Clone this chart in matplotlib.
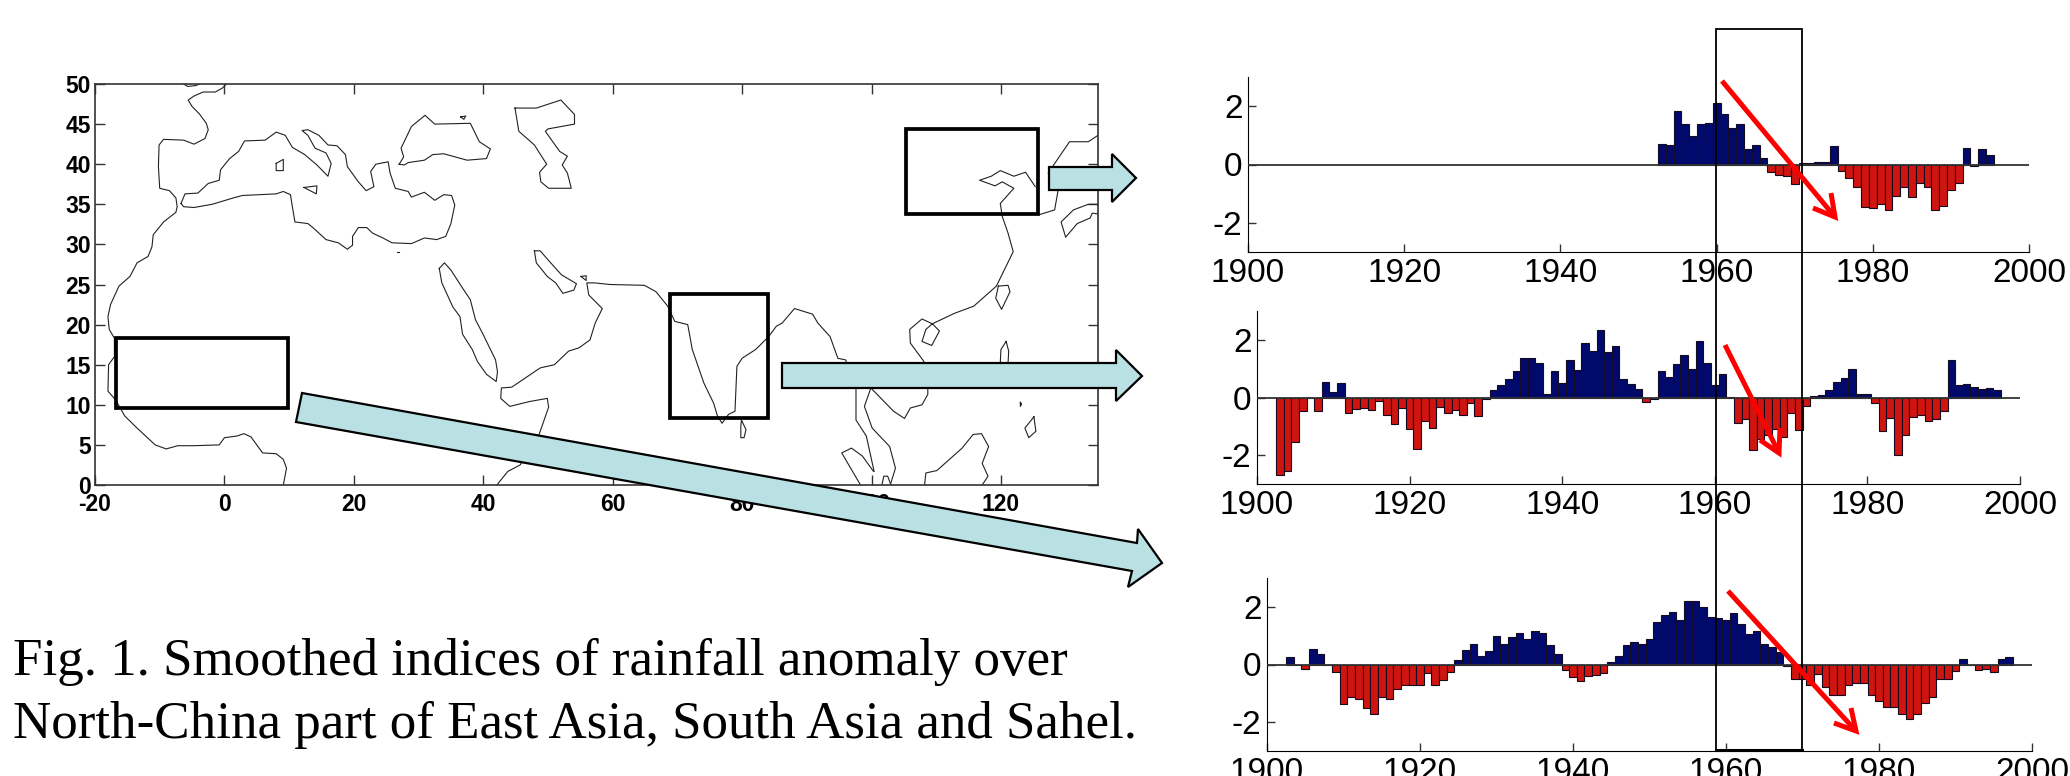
import matplotlib
matplotlib.use("Agg")
import matplotlib.pyplot as plt
from matplotlib.patches import Polygon, Rectangle
import numpy as np

plt.rcParams["axes.unicode_minus"] = False

W, H = 2070, 776

# ---- map data (lon, lat)
west_africa = [(0.3,50),(-0.3,49.5),(-1.4,49),(-3.3,49),(-4.7,48.5),(-5.6,48),(-5,47.2),(-3.9,46.3),(-2.8,45.1),
    (-2.5,44.3),(-3,43.2),(-4.7,42.5),(-6.3,43),(-9.4,43.1),(-10.1,42.4),(-10.2,39.7),(-10,37),(-8.5,36.7),
    (-7.5,35.8),(-7.3,34.7),(-7.5,34),(-9.4,32.8),(-11,31.2),(-11.2,29.7),(-11.8,28.5),(-13.5,27.7),(-14.6,26),
    (-16.3,24.8),(-17.6,22.5),(-18,21),(-17.8,19.4),(-17,18.3),(-17,16),(-17.9,15),(-18,11.7),(-16.8,10.6),
    (-15.4,8.6),(-13.5,7.1),(-10.7,5),(-9,4.5),(-7.2,4.9),(-4.7,4.9),(-0.8,5),(0,5.9),(1.9,6.1),(3,6.4),(4.1,6),
    (5.9,4),(8,3.9),(9.1,3.2),(9.6,2.1),(9.1,0)]
britain = [(-6.3,50),(-5.7,49.7),(-4.4,49.8),(-3.9,50)]
mediterranean = [(-6.7,35.1),(-6.1,36.3),(-4.1,36.4),(-2.5,37.6),(-0.8,38),(-0.6,39.3),(0.8,40.7),(2.2,41.6),(3.1,42.9),
    (6.3,43),(8,44),(9.4,43.6),(10.5,42.1),(12.4,41.2),(14.3,39.9),(16,38.5),(16.5,40.1),(15.7,41.4),(14,42),
    (12.9,43.6),(12,44.2),(12.9,44.3),(14.6,43.6),(16,42.4),(17.4,42.3),(18.7,41.2),(19,39.7),(20.7,37.8),
    (21.9,36.7),(23.1,37.2),(22.6,39.1),(23.4,40),(25.3,40.3),(25.6,38.9),(26.4,37),(28.4,36.6),(28.9,35.9),
    (30.9,36.5),(32.5,35.5),(33.9,36.2),(35.1,36.1),(35.6,34.9),(35,32.6),(34.2,31),(32.8,30.6),(30.9,30.8),
    (28.9,30.1),(25.9,30.2),(24.5,30.8),(22.9,31.4),(22,32.1),(20.7,32.1),(19.8,31),(19.8,29.9),(19,29.4),
    (17.6,30.2),(15.7,30.6),(13.8,32),(12.9,32.6),(10.9,32.8),(10.5,34.7),(10.2,36.2),(9.1,36.6),(8,36.3),
    (2.8,36.1),(1.4,35.8),(-1.9,35),(-4.7,34.6),(-6.3,34.7),(-6.7,35.1)]
sardinia = [(8,40.1),(9.1,40.6),(9.1,39.2),(8,39.2),(8,40.1)]
sicily = [(12.3,37.1),(14.3,37.3),(14.2,36.3),(12.3,37.1)]
black_sea = [(27,40),(27.7,40.9),(27.3,42),(28.9,44.7),(31,46.1),(32.5,45),(38,45.1),(39.4,42.8),(41.1,41.9),(40.5,40.7),
    (37.5,40.5),(33.9,41.3),(32.2,41.2),(30.9,40.5),(28.4,40.2),(27.8,39.9),(27,40)]
azov = [(36.5,45.9),(37.3,46),(37,45.6),(36.5,45.9)]
caspian = [(44.9,47),(48.2,47),(52,48),(54.1,46.2),(54.1,45),(50,44.4),(49.6,44.1),(51.8,41.6),(53,41),(52.2,39.9),(53,38.9),
    (53.6,37),(50.1,37),(48.9,37.8),(48.7,39),(49.8,40),(47.9,42.4),(45.5,44.1),(44.9,47)]
islet = [(26.6,29),(27,29)]
red_sea = [(33.2,27),(34,27.7),(35,26.8),(36.6,24.8),(38,23.1),(38.8,20.6),(39.9,18.9),(41.9,15.6),(42.2,14.1),(42,12.9),
    (40.5,13.8),(39.1,15.4),(38.3,16.9),(36.8,18.8),(36.4,21),(35.3,22.2),(33.6,25.2),(33.2,27)]
gulf = [(47.9,29.2),(48.8,29.2),(50.2,27.9),(52.1,26.2),(54.4,25.1),(54,24.3),(52.3,23.9),(51.2,25.2),(49.9,26),(48.2,27.7),(47.9,29.2)]
gulf_isle = [(55.1,26),(55.9,26.1),(55.9,25.5),(55.1,26)]
asia_south = [(42.1,0),(43.8,1.7),(45.7,2.5),(48.5,6),(50.1,9.7),(49.9,10.8),(47.1,10.4),(44.1,9.8),(42.7,10.8),(42.8,12.1),
    (44.4,12.2),(48.8,14.6),(51,15),(53.2,16.7),(54.8,17.1),(56.5,18.1),(57.3,20.2),(58.4,22),(56.3,23.7),(56,25.2),
    (57.2,25.2),(59.6,25),(64.9,24.9),(66.7,24.1),(68.5,22.3),(69.6,20.4),(71.6,20),(72.3,16.9),(74.1,12.7),(75.6,10.2),
    (76.2,8.6),(76.9,7.7),(77.9,8.8),(78.9,9.2),(79.2,14.8),(80,15.8),(82.1,16.9),(84.1,18.5),(85.3,19.8),(86.2,20.2),
    (88.1,22),(90.9,21.3),(91.7,20.2),(93.6,18.5),(94.8,15.8),(96,15.6),(97.6,12.1),(97.6,8.1),(99.2,6.1),(100.4,1.7)]
malay = [(99.9,12.1),(98.9,9.8),(100.1,7.1),(102.8,4.8),(103.7,2.1),(102.9,0)]
asia_east = [(99.9,12.1),(102.2,10.2),(103.4,9.2),(105.1,8.3),(106,9.6),(107.8,10),(108.7,11.3),(108.7,12.1),(108.1,15.4),
    (106,17.7),(105.9,19.4),(107.8,20.7),(109.4,20.1),(112.8,21.4),(115.8,22.3),(119.3,24.8),(121.9,29.1),(121.1,31.4),
    (120.2,33.5),(119.9,35.1),(122,37),(120.2,37.8),(119.1,37.3),(116.7,38),(118.5,38.5),(119.9,39.2),(122,38.5),
    (123.8,39),(125.3,37.2)]
korea = [(125.9,33.7),(128.3,34.3),(128.8,36.6),(127.3,38.9),(130.6,42.8),(133.5,42.8),(135,43.6)]
japan = [(135,35),(133.5,35),(131.2,34.3),(129.3,32.8),(130,30.9),(131.8,32.6),(133.8,33.3),(134.1,33.9),(135,33.8)]
hainan = [(109.4,20.1),(110.5,19.2),(109.3,17.4),(107.8,17.9),(108.4,19.4),(109.4,20.1)]
taiwan = [(119.6,24.8),(121.1,24.9),(121.4,24.1),(120.1,21.9),(119.2,23.3),(119.6,24.8)]
luzon = [(120.8,17.9),(121.2,16.7),(121.1,15.2),(119.9,15.3),(120,16.9),(120.8,17.9)]
dot_isle = [(123.0,10.3),(123.2,10.1),(123.0,9.8),(123.0,10.3)]
mindanao = [(125.1,8.5),(125.4,6.7),(124.3,5.9),(123.7,7.1),(125.1,8.5)]
sri_lanka = [(79.9,8.1),(80.6,6.9),(80.3,5.9),(79.8,5.9),(79.8,7.3),(79.9,8.1)]
borneo = [(108.2,0),(108.4,1.5),(110.1,1.8),(114,4.6),(115.7,6.3),(117,6.4),(118.1,4.8),(117.1,2.7),(118,1.1),(117.1,0)]
small_isle = [(101.6,0),(101.9,1.1),(102.5,1.1),(103,0)]
sumatra = [(98.3,0),(95.4,4),(96.9,4.6),(98.6,3.6),(100.3,1.7)]

coasts = [west_africa, britain, mediterranean, sardinia, sicily, black_sea, azov, caspian, islet, red_sea, gulf, gulf_isle,
          asia_south, malay, asia_east, korea, japan, hainan, taiwan, luzon, dot_isle, mindanao, sri_lanka, borneo,
          small_isle, sumatra]

# lon0, lon1, lat0, lat1
sahel_box = (-16.7, 9.8, 9.6, 18.3)
india_box = (68.8, 84, 8.3, 23.8)
china_box = (105.3, 125.7, 33.8, 44.4)

# ---- rainfall indices
years1 = np.arange(1953, 1996)
china = [0.72,0.68,1.85,1.38,0.97,1.38,1.43,2.11,1.72,1.25,1.38,0.53,0.68,0.24,-0.27,-0.35,-0.4,-0.68,0.05,0.06,0.09,0.09,
         0.64,-0.22,-0.45,-0.78,-1.45,-1.5,-1.35,-1.55,-1.08,-0.78,-1.12,-0.62,-0.76,-1.55,-1.43,-0.88,-0.62,0.58,-0.06,0.54,0.34]
years2 = np.arange(1903, 1998)
india = [-2.69,-2.54,-1.54,-0.48,0,-0.48,0.53,0.18,0.5,-0.54,-0.4,-0.36,-0.44,-0.12,-0.6,-0.93,-0.38,-1.08,-1.78,-0.8,-1.06,
         -0.32,-0.55,-0.45,-0.6,-0.2,-0.63,-0.06,0.25,0.42,0.63,0.92,1.36,1.38,1.2,0.12,0.92,0.52,1.3,0.97,1.88,1.62,2.35,1.58,
         1.78,0.63,0.48,0.28,-0.17,-0.05,0.92,0.72,1.15,1.48,1.0,1.97,1.2,0.42,0.82,0.03,-0.88,-0.73,-1.82,-1.45,-1.3,-1.1,
         -1.38,-0.55,-1.12,-0.3,0.04,0.07,0.25,0.53,0.68,1.0,0.13,0.13,-0.2,-1.15,-0.72,-2.0,-1.3,-0.68,-0.6,-0.83,-0.73,-0.48,
         1.3,0.42,0.48,0.38,0.28,0.33,0.25]
years3 = np.arange(1903, 1998)
sahel = [0.25,0,-0.15,0.55,0.36,0,-0.25,-1.38,-1.12,-1.18,-1.5,-1.72,-1.12,-1.18,-0.85,-0.72,-0.72,-0.72,-0.3,-0.7,-0.55,-0.25,
         0.15,0.52,0.72,0.28,0.48,1.0,0.72,0.97,1.1,0.9,1.17,1.1,0.68,0.35,-0.2,-0.42,-0.58,-0.4,-0.35,-0.3,0.1,0.3,0.68,0.78,
         0.72,0.9,1.48,1.72,1.82,1.55,2.2,2.2,2.0,1.65,1.6,1.55,1.78,1.4,1.05,1.15,0.72,0.62,0.42,-0.05,-0.52,-0.5,-0.7,-0.33,
         -0.78,-1.05,-1.05,-0.72,-0.65,-0.65,-1.05,-1.25,-1.48,-1.48,-1.72,-1.9,-1.72,-1.33,-1.13,-0.52,-0.52,-0.22,0.2,0,-0.2,
         -0.15,-0.25,0.18,0.25]

xticks_map = [-20, 0, 20, 40, 60, 80, 100, 120]
yticks_map = [0, 5, 10, 15, 20, 25, 30, 35, 40, 45, 50]
xticks_bar = [1900, 1920, 1940, 1960, 1980, 2000]
yticks_bar = [-2, 0, 2]

caption = ["Fig. 1. Smoothed indices of rainfall anomaly over",
           "North-China part of East Asia, South Asia and Sahel."]

NAVY = "#000a6e"
RED = "#d01410"
ARROW = "#b9e0e3"


def px_axes(fig, left, top, right, bottom):
    return fig.add_axes([left / W, 1 - bottom / H, (right - left) / W, (bottom - top) / H])


fig = plt.figure(figsize=(W / 100, H / 100), dpi=100, facecolor="white")

# map
ax = px_axes(fig, 95, 84, 1098, 485)
ax.set_xlim(-20, 135)
ax.set_ylim(0, 50)
for c in coasts:
    c = np.array(c)
    ax.plot(c[:, 0], c[:, 1], color="#222222", lw=0.8, clip_on=True)
for lon0, lon1, lat0, lat1 in (sahel_box, india_box, china_box):
    ax.add_patch(Rectangle((lon0, lat0), lon1 - lon0, lat1 - lat0, fill=False, ec="black", lw=2.7, zorder=4))
ax.set_xticks(xticks_map)
ax.set_yticks(yticks_map)
ax.tick_params(direction="in", length=7, width=1, top=True, right=True, labelsize=16.5, color="#333333")
ax.tick_params(axis="x", pad=5.5)
ax.tick_params(axis="y", pad=3)
for lab in ax.get_xticklabels() + ax.get_yticklabels():
    lab.set_family("Liberation Sans")
    lab.set_fontweight("bold")
for s in ax.spines.values():
    s.set_linewidth(1.2)
    s.set_color("#333333")

# bar panels: values, left, top, right, bottom in pixels
panels = [(years1, china, 1248, 77, 2029, 252),
          (years2, india, 1257, 311, 2020, 484),
          (years3, sahel, 1267, 578, 2032, 751)]
for yrs, vals, l, t, r, b in panels:
    a = px_axes(fig, l, t, r, b)
    vals = np.array(vals)
    cols = [NAVY if v >= 0 else RED for v in vals]
    a.bar(yrs, vals, width=1, color=cols, edgecolor="#150a20", linewidth=0.8)
    a.axhline(0, color="#333333", lw=1.3, zorder=3)
    a.set_xlim(1900, 2000)
    a.set_ylim(-3, 3)
    a.set_xticks(xticks_bar)
    a.set_yticks(yticks_bar)
    a.tick_params(direction="in", length=6, width=1, labelsize=24, pad=4, color="#333333")
    for lab in a.get_xticklabels() + a.get_yticklabels():
        lab.set_family("Liberation Sans")
    a.spines["top"].set_visible(False)
    a.spines["right"].set_visible(False)
    a.patch.set_alpha(0)

# overlay in pixels for the slide annotations
ov = fig.add_axes([0, 0, 1, 1], zorder=10)
ov.set_xlim(0, W)
ov.set_ylim(H, 0)
ov.axis("off")
ov.patch.set_alpha(0)

block_arrows = [
    [(1049,167),(1112,167),(1112,154),(1136,178),(1112,202),(1112,190),(1049,190)],
    [(782,363),(1116,363),(1116,350),(1142,376),(1116,401),(1116,388),(782,388)],
    [(302,393),(1137,543),(1138,529),(1162,563),(1128,587),(1132,571),(296,422)],
]
for pts in block_arrows:
    ov.add_patch(Polygon(pts, closed=True, fc=ARROW, ec="black", lw=1.6, joinstyle="miter"))

ov.add_patch(Rectangle((1716, 29), 86, 721, fill=False, ec="black", lw=1.3))
ov.plot([1716, 1802], [750, 750], color="black", lw=2.2)

red_arrows = [((1722,81),(1835,217),(1831,193),(1813,208)),
              ((1725,345),(1779,453),(1780,428),(1760,440)),
              ((1728,591),(1856,731),(1851,708),(1834,723))]
for start, tip, b1, b2 in red_arrows:
    ov.plot([start[0], tip[0]], [start[1], tip[1]], color="#ff0000", lw=3.6, solid_capstyle="butt")
    ov.plot([b1[0], tip[0], b2[0]], [b1[1], tip[1], b2[1]], color="#ff0000", lw=3.6,
            solid_joinstyle="miter", solid_capstyle="butt")

ov.text(13, 675, caption[0], family="Liberation Serif", fontsize=38.2, va="baseline", ha="left", color="black")
ov.text(13, 738, caption[1], family="Liberation Serif", fontsize=38.2, va="baseline", ha="left", color="black")

fig.savefig("out.png", dpi=100)
